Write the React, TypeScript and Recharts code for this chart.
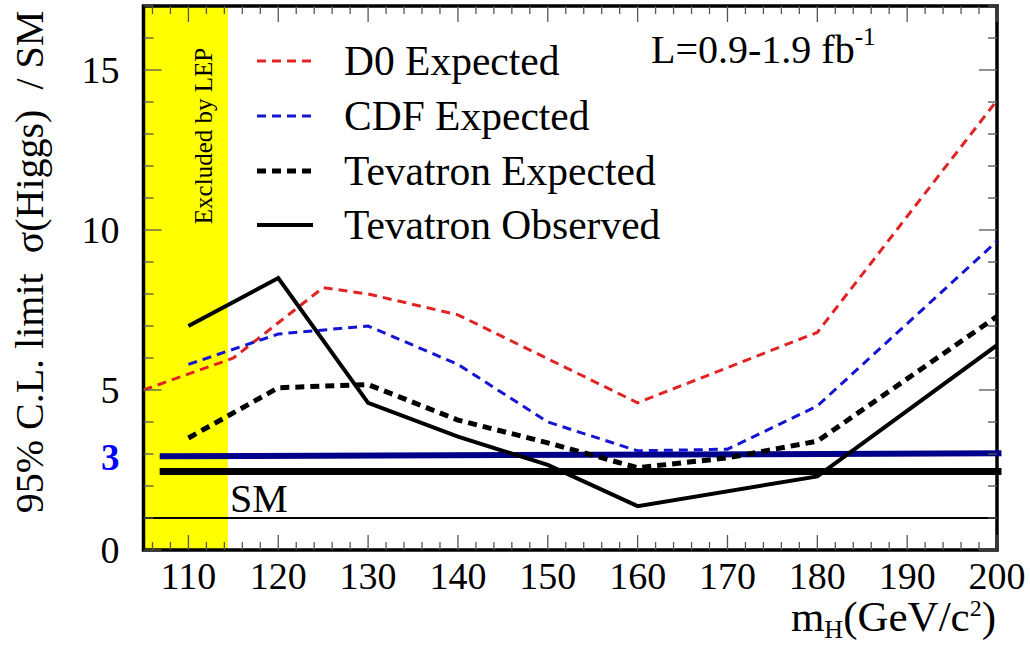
import { LineChart, Line, XAxis, YAxis, ReferenceArea, ReferenceLine, Legend } from 'recharts';

const SERIF = '"Liberation Serif", "Times New Roman", serif';

// Higgs mass points (GeV/c^2)
const masses = [105, 110, 115, 120, 125, 130, 140, 150, 160, 170, 180, 200];
// limits / SM (null = no point at that mass)
const d0Expected = [5.0, null, 6.0, null, 8.2, 8.0, 7.35, null, 4.6, null, 6.8, 14.05];
const cdfExpected = [null, 5.8, null, 6.75, null, 7.0, 5.8, 4.0, 3.1, 3.15, 4.5, 9.65];
const tevExpected = [null, 3.5, null, 5.07, null, 5.17, 4.06, 3.35, 2.57, 2.88, 3.4, 7.3];
const tevObserved = [null, 7.0, null, 8.5, null, 4.6, 3.54, 2.66, 1.37, null, 2.3, 6.4];

const xLabels = [110, 120, 130, 140, 150, 160, 170, 180, 190, 200];
const yLabels = [0, 3, 5, 10, 15];
const xTicks = Array.from({ length: 48 }, (_, i) => 106 + i * 2);
const yTicks = Array.from({ length: 18 }, (_, i) => i);

const lepLimit = 114.4;

const series = [
  { key: 'd0', name: 'D0 Expected', color: '#e02424', width: 3, dash: '9 6' },
  { key: 'cdf', name: 'CDF Expected', color: '#1414d2', width: 3, dash: '9 6' },
  { key: 'tevExp', name: 'Tevatron Expected', color: '#000', width: 5, dash: '9 6' },
  { key: 'tevObs', name: 'Tevatron Observed', color: '#000', width: 4, dash: undefined },
];

const data = masses.map((m, i) => ({
  mass: m,
  d0: d0Expected[i],
  cdf: cdfExpected[i],
  tevExp: tevExpected[i],
  tevObs: tevObserved[i],
}));

const TICK_COLOR = '#555';

const BottomTick = ({ x, y, payload }: any) => {
  const major = xLabels.includes(payload.value);
  return (
    <g>
      <line x1={x} y1={y} x2={x} y2={y - (major ? 15 : 8)} stroke={TICK_COLOR} strokeWidth={1.3} />
      {major && (
        <text x={x} y={y + 39} textAnchor="middle" fontSize={38} fontFamily={SERIF} fill="#000">
          {payload.value}
        </text>
      )}
    </g>
  );
};

const TopTick = ({ x, y, payload }: any) => {
  const major = xLabels.includes(payload.value);
  return <line x1={x} y1={y} x2={x} y2={y + (major ? 16 : 8)} stroke={TICK_COLOR} strokeWidth={1.3} />;
};

const LeftTick = ({ x, y, payload }: any) => {
  const v = payload.value;
  const major = v % 5 === 0;
  const isThree = v === 3;
  return (
    <g>
      <line x1={x} y1={y} x2={x + (major ? 18 : 10)} y2={y} stroke={TICK_COLOR} strokeWidth={1.3} />
      {yLabels.includes(v) && (
        <text
          x={x - 24}
          y={y + (isThree ? 16 : 13)}
          textAnchor="end"
          fontSize={isThree ? 37 : 38}
          fontWeight={isThree ? 'bold' : 'normal'}
          fontFamily={SERIF}
          fill={isThree ? '#0000ff' : '#000'}
        >
          {v}
        </text>
      )}
    </g>
  );
};

const RightTick = ({ x, y, payload }: any) => {
  const major = payload.value % 5 === 0;
  return <line x1={x} y1={y} x2={x - (major ? 18 : 9)} y2={y} stroke={TICK_COLOR} strokeWidth={1.3} />;
};

const renderLegend = () => (
  <div style={{ fontFamily: SERIF, fontSize: 41.5, color: '#000' }}>
    {series.map((s) => (
      <div key={s.key} style={{ display: 'flex', alignItems: 'center', height: 54.7 }}>
        <svg width={58} height={10}>
          <line x1={1} y1={5} x2={57} y2={5} stroke={s.color} strokeWidth={s.width} strokeDasharray={s.dash} />
        </svg>
        <span style={{ marginLeft: 30, whiteSpace: 'nowrap' }}>{s.name}</span>
      </div>
    ))}
  </div>
);

export default function App() {
  return (
    <div style={{ position: 'absolute', left: 0, top: 0, width: 1030, height: 645, background: '#fff' }}>
      <LineChart width={1030} height={645} data={data} margin={{ top: 5, right: 32, bottom: 35, left: 0.5 }}>
        <XAxis
          dataKey="mass"
          type="number"
          domain={[105, 200]}
          ticks={xTicks}
          interval={0}
          allowDataOverflow
          height={60}
          tickSize={0}
          tickMargin={0}
          axisLine={false}
          tickLine={false}
          tick={(p: any) => <BottomTick {...p} />}
        />
        <XAxis
          xAxisId="top"
          orientation="top"
          dataKey="mass"
          type="number"
          domain={[105, 200]}
          ticks={xTicks}
          interval={0}
          allowDataOverflow
          height={1}
          tickSize={0}
          tickMargin={0}
          axisLine={false}
          tickLine={false}
          tick={(p: any) => <TopTick {...p} />}
        />
        <YAxis
          type="number"
          domain={[0, 17]}
          ticks={yTicks}
          interval={0}
          allowDataOverflow
          width={143}
          tickSize={0}
          tickMargin={0}
          axisLine={false}
          tickLine={false}
          tick={(p: any) => <LeftTick {...p} />}
        />
        <YAxis
          yAxisId="right"
          orientation="right"
          type="number"
          domain={[0, 17]}
          ticks={yTicks}
          interval={0}
          allowDataOverflow
          width={1}
          tickSize={0}
          tickMargin={0}
          axisLine={false}
          tickLine={false}
          tick={(p: any) => <RightTick {...p} />}
        />
        <ReferenceArea x1={105} x2={lepLimit} y1={0} y2={17} fill="#ffff00" fillOpacity={1} stroke="none" />
        <ReferenceLine y={1} stroke="#000" strokeWidth={2} />
        <ReferenceLine
          segment={[{ x: 106.8, y: 2.45 }, { x: 200.5, y: 2.45 }]}
          stroke="#000"
          strokeWidth={7}
          ifOverflow="visible"
        />
        <ReferenceLine
          segment={[{ x: 106.8, y: 2.93 }, { x: 200.5, y: 3.02 }]}
          stroke="#000088"
          strokeWidth={6}
          ifOverflow="visible"
        />
        {series.map((s) => (
          <Line
            key={s.key}
            type="linear"
            dataKey={s.key}
            name={s.name}
            stroke={s.color}
            strokeWidth={s.width}
            strokeDasharray={s.dash}
            dot={false}
            activeDot={false}
            connectNulls
            isAnimationActive={false}
          />
        ))}
        <ReferenceArea x1={105} x2={200} y1={0} y2={17} fill="none" stroke="#000" strokeWidth={3.5} ifOverflow="visible" />
        <Legend
          layout="vertical"
          align="center"
          verticalAlign="middle"
          content={renderLegend}
          wrapperStyle={{ left: 256, top: 34, width: 'auto', height: 'auto' }}
        />
      </LineChart>
      <svg
        width={1030}
        height={645}
        style={{ position: 'absolute', left: 0, top: 0, pointerEvents: 'none' }}
        fontFamily={SERIF}
      >
        <text
          transform="translate(43, 262) rotate(-90)"
          textAnchor="middle"
          fontSize={40}
          style={{ whiteSpace: 'pre' }}
        >
          {'95% C.L. limit  σ(Higgs)  / SM'}
        </text>
        <text transform="translate(212, 136) rotate(-90)" textAnchor="middle" fontSize={25}>
          Excluded by LEP
        </text>
        <text x={230} y={512} fontSize={40}>
          SM
        </text>
        <text x={651} y={63} fontSize={40}>
          L=0.9-1.9 fb
          <tspan fontSize={25} dy={-18}>
            -1
          </tspan>
        </text>
        <text x={996} y={631} textAnchor="end" fontSize={43}>
          m
          <tspan fontSize={26} dy={7}>
            H
          </tspan>
          <tspan dy={-7}>(GeV/c</tspan>
          <tspan fontSize={24} dy={-15}>
            2
          </tspan>
          <tspan dy={15}>)</tspan>
        </text>
      </svg>
    </div>
  );
}
